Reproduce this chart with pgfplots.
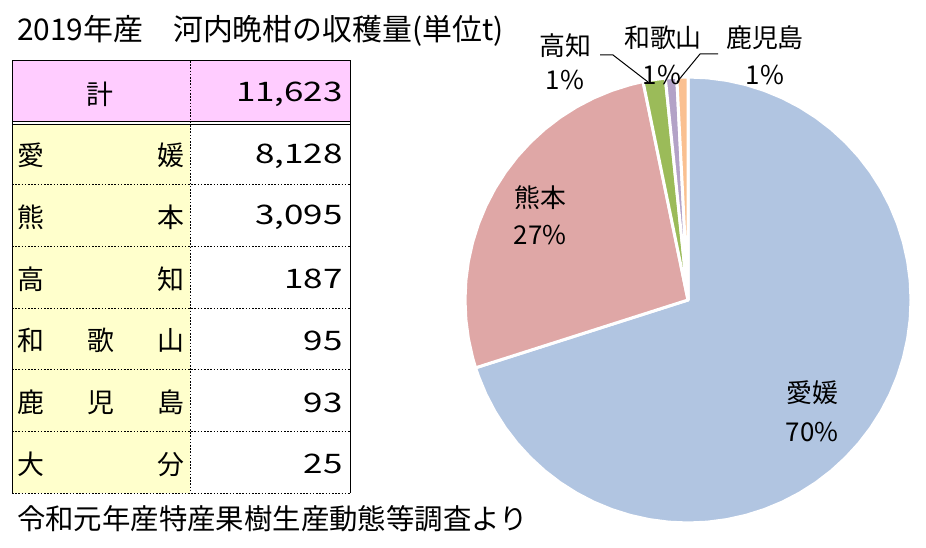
\documentclass[border=0pt]{standalone}
\usepackage{fontspec}
\setmainfont{Noto Sans CJK JP}
\usepackage{graphicx}
\usepackage{pgfplots}
\usepgfplotslibrary{polar}
\pgfplotsset{compat=1.18}
\definecolor{cEhime}{HTML}{B1C5E1}
\definecolor{cKuma}{HTML}{DFA7A6}
\definecolor{cKochi}{HTML}{9BBB59}
\definecolor{cWaka}{HTML}{B3A2C7}
\definecolor{cKago}{HTML}{FAC090}
\definecolor{hdrpink}{HTML}{FFCCFF}
\definecolor{coly}{HTML}{FFFFCC}
% values (t): Ehime 8128, Kumamoto 3095, Kochi 187, Wakayama 95, Kagoshima 93 (Oita 25 not in pie)
% slice angles (deg, of 11598): 252.29, 96.07, 5.80, 2.95, 2.89 ; start at 90, clockwise
\begin{document}
\begin{tikzpicture}[x=1bp,y=1bp]
\path[use as bounding box] (0,0) rectangle (926,548);
% ---------- table ----------
\fill[hdrpink] (12,487) rectangle (350,427);
\fill[coly] (12,424) rectangle (190,55);
\tikzset{dotl/.style={line width=0.9bp, dash pattern=on 1.6bp off 1.6bp}}
\foreach \yy in {363.3,301.7,240,178.3,116.7,55}
  \draw[dotl] (12,\yy) -- (350,\yy);
\draw[dotl] (190,487) -- (190,55);
\draw[line width=1bp] (12,55) -- (12,487) -- (350,487) -- (350,55);
\draw[line width=0.8bp] (12,427) -- (350,427);
\draw[line width=0.8bp] (12,424) -- (350,424);
\tikzset{tt/.style={inner sep=0pt, font=\fontsize{27}{30}\selectfont}}
\newcommand{\nm}[1]{\scalebox{1.3}[1]{#1}}
\node[tt] at (100,454) {計};
\node[tt, anchor=east] at (343,454) {\nm{11,623}};
% rows
\node[tt, anchor=west] at (17,392.2) {愛};
\node[tt, anchor=east] at (185,392.2) {媛};
\node[tt, anchor=east] at (343,392.2) {\nm{8,128}};
\node[tt, anchor=west] at (17,330.5) {熊};
\node[tt, anchor=east] at (185,330.5) {本};
\node[tt, anchor=east] at (343,330.5) {\nm{3,095}};
\node[tt, anchor=west] at (17,268.8) {高};
\node[tt, anchor=east] at (185,268.8) {知};
\node[tt, anchor=east] at (343,268.8) {\nm{187}};
\node[tt, anchor=west] at (17,207.2) {和};
\node[tt] at (101,207.2) {歌};
\node[tt, anchor=east] at (185,207.2) {山};
\node[tt, anchor=east] at (343,207.2) {\nm{95}};
\node[tt, anchor=west] at (17,145.5) {鹿};
\node[tt] at (101,145.5) {児};
\node[tt, anchor=east] at (185,145.5) {島};
\node[tt, anchor=east] at (343,145.5) {\nm{93}};
\node[tt, anchor=west] at (17,83.8) {大};
\node[tt, anchor=east] at (185,83.8) {分};
\node[tt, anchor=east] at (343,83.8) {\nm{25}};
% title and source
\node[inner sep=0pt, anchor=west, font=\fontsize{30}{32}\selectfont] at (17,517) {2019年産　河内晩柑の収穫量(単位t)};
\node[inner sep=0pt, anchor=west, font=\fontsize{28.5}{30}\selectfont] at (17,29) {令和元年産特産果樹生産動態等調査より};
% ---------- pie ----------
\begin{polaraxis}[at={(688bp,248bp)}, anchor=center, width=446bp, height=446bp,
  scale only axis, hide axis, clip=false, xmin=0, xmax=360, ymin=0, ymax=1]
\pgfplotsset{slice/.style={draw=white, line width=3bp, line join=round}}
\addplot[slice, fill=cEhime] coordinates {(0,0) (90,1) (85,1) (80,1) (75,1) (70,1) (65,1) (60,1) (55,1) (50,1) (45,1) (40,1) (35,1) (30,1) (25,1) (20,1) (15,1) (10,1) (5,1) (0,1) (355,1) (350,1) (345,1) (340,1) (335,1) (330,1) (325,1) (320,1) (315,1) (310,1) (305,1) (300,1) (295,1) (290,1) (285,1) (280,1) (275,1) (270,1) (265,1) (260,1) (255,1) (250,1) (245,1) (240,1) (235,1) (230,1) (225,1) (220,1) (215,1) (210,1) (205,1) (200,1) (197.71,1)} -- cycle;
\addplot[slice, fill=cKuma] coordinates {(0,0) (197.71,1) (195,1) (190,1) (185,1) (180,1) (175,1) (170,1) (165,1) (160,1) (155,1) (150,1) (145,1) (140,1) (135,1) (130,1) (125,1) (120,1) (115,1) (110,1) (105,1) (101.64,1)} -- cycle;
\addplot[slice, fill=cKochi] coordinates {(0,0) (101.64,1) (98.74,1) (95.84,1)} -- cycle;
\addplot[slice, fill=cWaka] coordinates {(0,0) (95.84,1) (94.37,1) (92.89,1)} -- cycle;
\addplot[slice, fill=cKago] coordinates {(0,0) (92.89,1) (91.45,1) (90,1)} -- cycle;
\end{polaraxis}
% labels
\tikzset{pl/.style={inner sep=0pt, font=\fontsize{26}{28}\selectfont}}
\node[pl] at (812,155) {愛媛};
\node[pl] at (812,116) {70\%};
\node[pl] at (540,350) {熊本};
\node[pl] at (540,313) {27\%};
\node[pl] at (565,502) {高知};
\node[pl] at (565,468) {1\%};
\node[pl] at (663,510) {和歌山};
\node[pl] at (662,473) {1\%};
\node[pl] at (765,510) {鹿児島};
\node[pl] at (765,473) {1\%};
\draw[line width=1bp] (600,493) -- (613,493) -- (648,466);
\draw[line width=1bp] (718,494) -- (700,494) -- (677,466);
\end{tikzpicture}
\end{document}
